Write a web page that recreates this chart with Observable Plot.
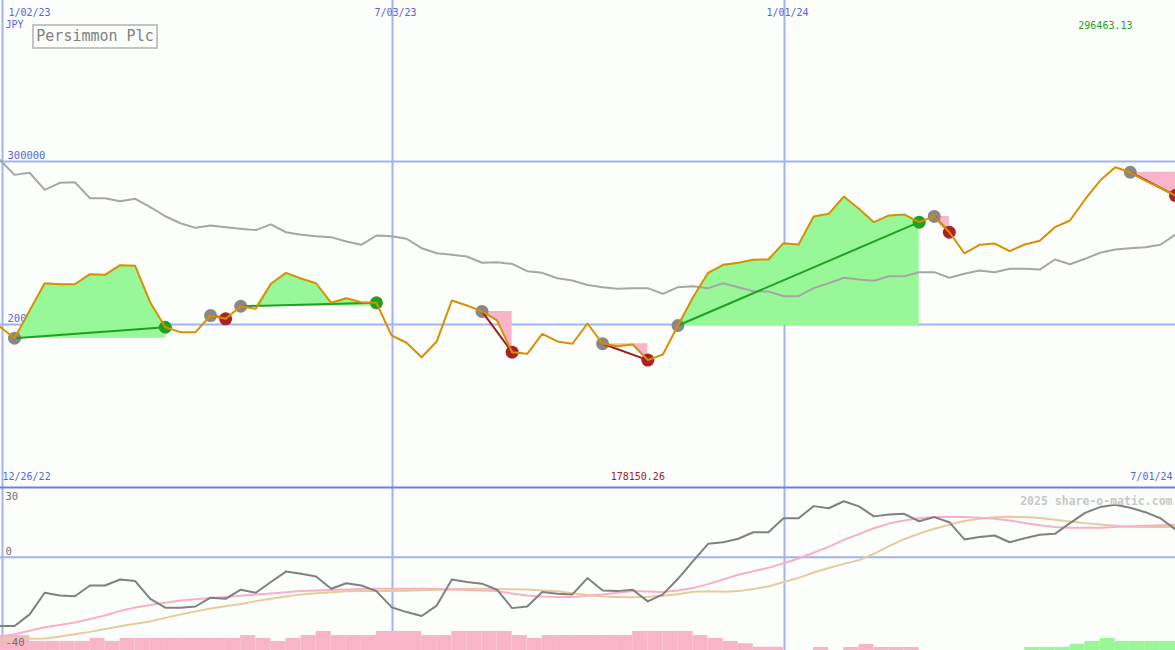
<!DOCTYPE html>
<html>
<head>
<meta charset="utf-8">
<script src="https://cdn.jsdelivr.net/npm/d3@7"></script>
<script src="https://cdn.jsdelivr.net/npm/@observablehq/plot@0.6"></script>
<style>
  html, body { margin: 0; padding: 0; background: #fcfefc; }
  #wrap { position: relative; width: 1175px; height: 650px; overflow: hidden; font-family: "DejaVu Sans Mono", monospace; }
  #wrap svg { display: block; }
  #title { position: absolute; left: 32px; top: 24px; width: 122px; height: 21px; border: 2px solid #c4c4c4;
           color: #808080; font: 15px "DejaVu Sans Mono", monospace; line-height: 21px; text-align: center; }
</style>
</head>
<body>
<div id="wrap"><div id="title">Persimmon Plc</div></div>
<script>
// ---- data (weekly, first week 2023-01-02) ----
const firstWeek = "2023-01-02";
const price = [198800,191600,208600,225300,224700,224700,230900,230500,236400,236000,
  213500,198300,195300,195300,205500,203500,211200,209600,225000,231700,
  228200,225300,213300,216100,213700,213300,193300,188800,179900,189600,
  214700,211700,208000,202500,183000,182000,194300,189600,188200,200600,
  188200,186700,187700,178150.26,181600,199400,216700,231700,236600,237900,
  239700,239900,249900,249100,266300,267900,278500,271000,262800,266900,
  267500,262800,266300,256600,243700,248900,249700,245000,249100,251400,
  259700,263800,276700,288300,296463.13,293400,288300,283900,279100];
const avgLine = [301200,291800,293100,282600,286900,287300,277500,277500,275600,277100,
  272000,266400,262100,259300,260700,259700,258700,257900,261400,256600,
  255000,254200,253600,250900,248900,254600,254200,252600,246800,243700,
  242800,241700,237900,238200,237200,232700,231700,228400,227000,224200,
  222900,221900,222300,222300,218800,222900,223500,222300,225300,222900,
  220400,220200,217400,217400,222300,225300,228700,227600,226800,229600,
  229600,232100,232100,228700,231100,233100,232100,234200,234200,233700,
  239900,237000,240300,244000,246000,246800,247400,248900,255200];
// trades: start index, end index, result
const tradeStart = [1, 14, 16, 32, 40, 45, 62, 75];
const tradeEnd   = [11, 15, 25, 34, 43, 61, 63, 78];
const tradeWin   = [true, false, true, false, false, true, false, false];
// lower panel
const momentum = [-29.5,-29.5,-24.5,-15.2,-16.4,-16.7,-12.1,-12.1,-9.5,-10.2,
  -17.8,-21.6,-21.6,-21.1,-17.3,-17.8,-13.9,-15.2,-10.6,-6.1,
  -7.0,-8.2,-13.5,-11.1,-12.1,-14.5,-21.4,-23.5,-25.2,-20.7,
  -9.5,-10.6,-11.3,-13.9,-21.8,-21.1,-14.9,-15.6,-15.9,-8.9,
  -14.2,-14.5,-13.9,-18.9,-15.9,-9.2,-1.6,5.8,6.5,8.0,
  10.8,10.8,16.8,16.8,22.0,21.1,24.1,21.9,17.6,18.4,
  18.7,15.5,17.3,15.1,7.7,8.7,9.4,6.5,8.2,9.7,
  10.1,14.7,19.1,21.6,22.6,21.3,19.4,16.8,12.0];
const fastAvg = [-34,-33,-31.5,-30,-29,-28,-26.5,-25,-23,-21.5,
  -20.5,-19.5,-18.5,-18,-17.5,-17,-16.5,-16,-15.5,-15,
  -14.5,-14.2,-14,-13.8,-13.6,-13.5,-13.5,-13.5,-13.5,-13.6,
  -13.8,-14,-14.2,-14.5,-15.5,-16.4,-16.8,-17,-17,-16.5,
  -16,-15.2,-14.5,-14.7,-14.9,-14.2,-13.2,-11.5,-9.5,-7.5,
  -6,-4.5,-2.5,-0.5,2,4.5,7.5,10,12.5,14.5,
  15.8,16.8,17.3,17.4,17.3,17,16.6,15.8,14.8,13.8,
  13,12.7,12.7,12.7,13,13.4,13.6,13.8,14.0];
const slowAvg = [-35.3,-35.2,-35,-34.8,-34,-33,-32,-30.8,-29.6,-28.5,
  -27.5,-26,-24.5,-23.2,-22,-21,-20,-18.8,-17.8,-16.8,
  -15.9,-15.4,-15,-14.6,-14.5,-14.5,-14.5,-14.3,-14.1,-13.9,
  -13.7,-13.5,-13.5,-13.6,-13.7,-13.8,-14.2,-14.6,-15.4,-16.2,
  -16.8,-17,-17.1,-16.9,-16.5,-15.8,-14.8,-14.6,-14.8,-14.5,
  -13.6,-12.5,-10.6,-8.8,-6.5,-4.6,-2.8,-1.2,1.5,4.8,
  7.8,10.2,12.3,14,15.6,16.6,17.2,17.4,17.3,16.9,
  16.2,15.4,14.7,14.1,13.6,13.1,13,13,13];
const histogram = [-6.4,-6.4,-3.9,-3.9,-3.9,-3.9,-5.2,-3.9,-5.2,-5.2,
  -5.2,-5.2,-5.2,-5.2,-5.2,-5.2,-6.4,-5.2,-3.9,-5.2,
  -6.4,-8.2,-6.4,-6.4,-6.4,-8.2,-8.2,-8.2,-6.4,-6.4,
  -8.2,-8.2,-8.2,-8.2,-6.4,-5.2,-6.4,-6.4,-6.4,-6.4,
  -6.4,-6.4,-8.2,-8.2,-8.2,-8.2,-6.4,-5.2,-3.9,-2.9,
  -1.4,-1.4,0,0,-1.3,0,-1.3,-2.6,-1.3,-1.3,
  -1.3,0,0,0,0,0,0,0,1.3,1.3,
  1.3,2.6,3.9,5.2,3.9,3.9,3.9,3.9,3.9];
// labels
const gridDates = ["2023-01-02", "2023-07-03", "2024-01-01"];
const gridLabels = ["1/02/23", "7/03/23", "1/01/24"];
const priceTicks = [200000, 300000];
const lowerTicks = [30, 0, -40];
const currency = "JPY";
const firstLabel = "12/26/22";
const lastLabel = "7/01/24";
const credit = "2025 share-o-matic.com";

// ---- derived ----
const t0 = new Date(firstWeek + "T00:00:00Z");
const dates = d3.range(price.length + 1).map(i => d3.utcWeek.offset(t0, i));
const gDates = gridDates.map(s => new Date(s + "T00:00:00Z"));
const priceData = price.map((v, i) => ({date: dates[i], v}));
const avgData = avgLine.map((v, i) => ({date: dates[i], v}));

const areaData = [];
const trades = tradeStart.map((s, k) => {
  const e = tradeEnd[k], win = tradeWin[k], base = price[s];
  for (let i = s; i <= e; i++) {
    areaData.push({k, win, date: dates[i], base, top: win ? Math.max(price[i], base) : Math.min(price[i], base)});
  }
  return {s, e, win, d1: dates[s], v1: price[s], d2: dates[e], v2: price[e]};
});

const grid = "#a2b2f2";
const blue = "#5464e4";
const W = 1175;
const xScale = {type: "utc", domain: [dates[0], dates[price.length - 1]], range: [-1, 1175], axis: null};
const style = {fontFamily: "'DejaVu Sans Mono', monospace", fontSize: "10px", background: "transparent", overflow: "hidden"};

const maxIdx = d3.maxIndex(price), minIdx = d3.minIndex(price);

const main = Plot.plot({
  width: W, height: 486, margin: 0,
  x: xScale,
  y: {domain: [200000, 300000], range: [324, 161], axis: null},
  style,
  marks: [
    Plot.ruleY(priceTicks, {stroke: grid, strokeWidth: 2}),
    Plot.ruleX(gDates.slice(1), {stroke: grid, strokeWidth: 2, dx: 1}),
    Plot.ruleX(gDates.slice(0, 1), {stroke: grid, strokeWidth: 2, dx: 3}),
    Plot.text(priceTicks, {y: d => d, text: d => String(d), frameAnchor: "left", dx: 7, dy: -6, textAnchor: "start", fill: blue, fontSize: 10.5}),
    Plot.areaY(areaData, {x: "date", y1: "base", y2: "top", z: "k", fill: d => d.win ? "#98f898" : "#f8b4c8", curve: "linear"}),
    Plot.line(avgData, {x: "date", y: "v", stroke: "#a6a6a6", strokeWidth: 2}),
    Plot.dot(trades, {x: "d1", y: "v1", r: 6.5, fill: "#888888"}),
    Plot.dot(trades, {x: "d2", y: "v2", r: 6.5, fill: d => d.win ? "#22a022" : "#a82424"}),
    Plot.link(trades, {x1: "d1", y1: "v1", x2: "d2", y2: "v2", stroke: d => d.win ? "#22a022" : "#a01c1c", strokeWidth: 2}),
    Plot.line(priceData, {x: "date", y: "v", stroke: "#d89000", strokeWidth: 2}),
    Plot.text(gridLabels.slice(0, 1), {x: () => gDates[0], frameAnchor: "top", dy: 8, dx: 9, textAnchor: "start", fill: blue}),
    Plot.text(gridLabels.slice(1), {x: (d, i) => gDates[i + 1], frameAnchor: "top", dy: 8, dx: 4, textAnchor: "middle", fill: blue}),
    Plot.text([currency], {frameAnchor: "top-left", dx: 5, dy: 20, textAnchor: "start", fill: blue}),
    Plot.text([price[maxIdx].toFixed(2)], {frameAnchor: "top-right", dx: -43, dy: 21, textAnchor: "end", fill: "#22a022"}),
    Plot.text([firstLabel], {frameAnchor: "bottom-left", dx: 2, dy: -7, textAnchor: "start", fill: blue}),
    Plot.text([lastLabel], {frameAnchor: "bottom-right", dx: -3, dy: -7, textAnchor: "end", fill: blue}),
    Plot.text([price[minIdx].toFixed(2)], {x: () => dates[minIdx], frameAnchor: "bottom", dy: -7, dx: -10, textAnchor: "middle", fill: "#a02020"})
  ]
});

const histData = histogram.map((v, i) => ({x1: dates[i], x2: dates[i + 1], v}));
const tickShift = [9, -6, -8];
const lower = Plot.plot({
  width: W, height: 164, margin: 0,
  x: xScale,
  y: {domain: [-40, 30], range: [164, 1], axis: null},
  style,
  marks: [
    Plot.ruleY([0], {stroke: grid, strokeWidth: 2}),
    Plot.ruleX(gDates.slice(1), {stroke: grid, strokeWidth: 2, dx: 1}),
    Plot.ruleX(gDates.slice(0, 1), {stroke: grid, strokeWidth: 2, dx: 3}),
    Plot.rect(histData.filter(d => d.v !== 0), {x1: "x1", x2: "x2", y1: () => -40, y2: d => -40 + Math.abs(d.v), fill: d => d.v < 0 ? "#f8b4c8" : "#98f898"}),
    Plot.line(slowAvg, {x: (d, i) => dates[i], y: d => d, stroke: "#e4cc9c", strokeWidth: 2}),
    Plot.line(fastAvg, {x: (d, i) => dates[i], y: d => d, stroke: "#f8b0c8", strokeWidth: 2}),
    Plot.line(momentum, {x: (d, i) => dates[i], y: d => d, stroke: "#808080", strokeWidth: 2}),
    Plot.ruleY([30], {stroke: "#6e7ee8", strokeWidth: 2}),
    ...lowerTicks.map((t, i) => Plot.text([t], {y: d => d, text: d => String(d), frameAnchor: "left", dx: 5, dy: tickShift[i], textAnchor: "start", fill: "#707070", fontSize: 10.5})),
    Plot.text([credit], {frameAnchor: "top-right", dx: -3, dy: 10, textAnchor: "end", fill: "#c8c8c8", fontWeight: "bold", fontSize: 11.5})
  ]
});
const wrap = document.getElementById("wrap");
wrap.insertBefore(main, wrap.firstChild);
wrap.insertBefore(lower, main.nextSibling);
</script>
</body>
</html>
